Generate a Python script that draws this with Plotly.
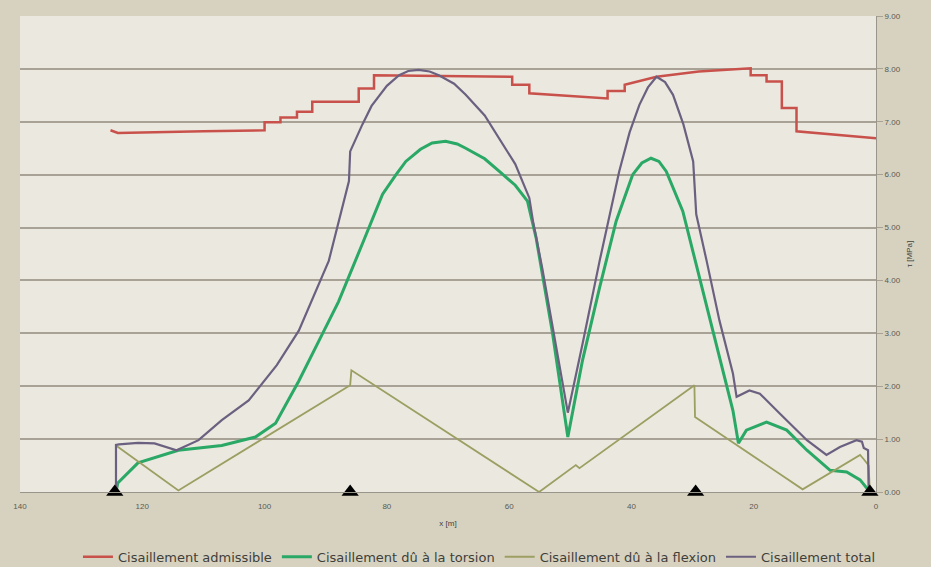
import plotly.graph_objects as go

# ---- data ----
adm_x = [125.2, 124.0, 110.0, 100.0, 100.0, 97.4, 97.4, 94.7, 94.7, 92.2, 92.2, 84.6, 84.6, 82.1, 82.1,
         59.5, 59.5, 56.7, 56.7, 43.9, 43.9, 41.1, 41.1, 35.9, 29.0, 20.5, 20.5, 17.9, 17.9, 15.4, 15.4,
         13.0, 13.0, 0.0]
adm_y = [6.84, 6.79, 6.82, 6.84, 6.99, 6.99, 7.08, 7.08, 7.19, 7.19, 7.38, 7.38, 7.63, 7.63, 7.88,
         7.85, 7.70, 7.70, 7.54, 7.44, 7.58, 7.58, 7.70, 7.85, 7.95, 8.01, 7.88, 7.88, 7.76, 7.76, 7.26,
         7.26, 6.82, 6.69]

tor_x = [124.3, 124.0, 120.7, 114.1, 107.0, 101.5, 98.2, 94.4, 90.5, 87.9, 83.8, 80.7, 78.5, 76.9,
         74.5, 72.6, 70.4, 68.5, 67.1, 64.0, 61.6, 59.0, 57.0, 55.6, 52.9, 50.4, 48.0, 45.2, 42.5,
         39.8, 38.3, 36.8, 35.5, 34.3, 31.6, 28.9, 26.1, 23.4, 22.5, 21.2, 17.9, 14.6, 11.3, 7.5,
         4.8, 2.6, 1.0]
tor_y = [0.0, 0.17, 0.55, 0.79, 0.88, 1.04, 1.30, 2.10, 3.00, 3.60, 4.75, 5.63, 6.00, 6.25,
         6.48, 6.60, 6.63, 6.58, 6.50, 6.30, 6.06, 5.80, 5.50, 4.81, 3.00, 1.04, 2.49, 3.87, 5.12,
         6.00, 6.22, 6.31, 6.25, 6.06, 5.31, 4.05, 2.80, 1.54, 0.92, 1.17, 1.32, 1.17, 0.79, 0.41,
         0.38, 0.23, 0.0]

flex_x = [124.3, 124.3, 114.1, 86.0, 85.8, 55.1, 49.1, 48.5, 29.7, 29.6, 12.0, 2.6, 2.0, 1.2, 1.0]
flex_y = [0.0, 0.88, 0.03, 2.02, 2.30, 0.0, 0.51, 0.45, 2.02, 1.42, 0.05, 0.70, 0.62, 0.50, 0.0]

tot_x = [124.3, 124.3, 123.8, 120.7, 118.0, 114.4, 110.8, 107.0, 102.6, 98.0, 94.4, 89.5, 86.2, 86.0,
         84.0, 82.5, 80.0, 78.0, 76.5, 74.8, 73.0, 71.5, 69.0, 67.1, 64.0, 61.6, 59.0, 56.7, 56.1,
         54.6, 52.9, 51.5, 50.4, 48.0, 45.2, 42.0, 40.3, 38.7, 37.3, 35.9, 34.5, 33.2, 31.5, 29.9,
         29.4, 27.7, 25.6, 23.4, 22.8, 20.7, 19.0, 15.7, 11.3, 8.1, 5.9, 3.2, 2.3, 2.0, 1.3, 1.2]
tot_y = [0.0, 0.89, 0.90, 0.93, 0.92, 0.79, 0.98, 1.36, 1.73, 2.40, 3.05, 4.37, 5.88, 6.44,
         6.95, 7.30, 7.68, 7.88, 7.96, 7.98, 7.95, 7.88, 7.72, 7.51, 7.12, 6.69, 6.20, 5.56, 5.12,
         4.24, 3.11, 2.17, 1.50, 2.80, 4.37, 6.06, 6.80, 7.32, 7.65, 7.85, 7.75, 7.51, 6.95, 6.25,
         5.25, 4.37, 3.24, 2.24, 1.80, 1.92, 1.86, 1.48, 0.98, 0.70, 0.85, 0.98, 0.95, 0.83, 0.79, 0.0]

support_x = [124.5, 86.0, 29.5, 1.0]
support_y = [0, 0, 0, 0]

x_ticks = [140, 120, 100, 80, 60, 40, 20, 0]
y_ticks = [0, 1, 2, 3, 4, 5, 6, 7, 8, 9]

names = ["Cisaillement admissible", "Cisaillement dû à la torsion",
         "Cisaillement dû à la flexion", "Cisaillement total"]

fig = go.Figure()
fig.add_trace(go.Scatter(x=adm_x, y=adm_y, mode="lines", name=names[0],
                         line=dict(color="#c9514b", width=2.5)))
fig.add_trace(go.Scatter(x=tor_x, y=tor_y, mode="lines", name=names[1],
                         line=dict(color="#2aa865", width=3)))
fig.add_trace(go.Scatter(x=flex_x, y=flex_y, mode="lines", name=names[2],
                         line=dict(color="#9c9f62", width=1.8)))
fig.add_trace(go.Scatter(x=tot_x, y=tot_y, mode="lines", name=names[3],
                         line=dict(color="#6b6080", width=2.2)))
fig.add_trace(go.Scatter(x=support_x, y=support_y, mode="markers", showlegend=False,
                         marker=dict(symbol="triangle-up", size=15, color="black"),
                         cliponaxis=False, hoverinfo="skip"))

fig.update_layout(
    width=931, height=567,
    margin=dict(l=20, r=55, t=14, b=75),
    paper_bgcolor="#d7d2c0",
    plot_bgcolor="#ebe8df",
    font=dict(family="Liberation Sans, Arial, sans-serif", color="#4a4a44", size=8),
    showlegend=True,
    legend=dict(orientation="h", xref="container", yref="container", x=0.515, y=0.018,
                xanchor="center", yanchor="middle",
                font=dict(family="DejaVu Sans, sans-serif", size=13, color="#3f3f3a"),
                bgcolor="rgba(0,0,0,0)", itemwidth=30, tracegroupgap=0),
    xaxis=dict(range=[140, 0], tickvals=x_ticks, ticktext=[str(v) for v in x_ticks],
               showgrid=False, zeroline=False, showline=True, linecolor="#9a958a",
               ticks="outside", ticklen=6, tickcolor="rgba(0,0,0,0)",
               tickfont=dict(size=8, color="#5a5a52"),
               title=dict(text="x [m]", font=dict(size=8, color="#3f3f3a"), standoff=10)),
    yaxis=dict(range=[0, 9], side="right", tickvals=y_ticks, tickformat=".2f",
               showgrid=True, gridcolor="#a8a296", gridwidth=1.5, zeroline=False,
               showline=True, linecolor="#9a958a", ticks="outside", ticklen=6,
               tickcolor="#a8a296", tickfont=dict(size=8, color="#5a5a52"),
               title=dict(text="τ [MPa]", font=dict(size=8, color="#3f3f3a"), standoff=6)),
)

fig.write_html("out.html", config={"displayModeBar": False},
               post_script="document.body.style.margin='0';document.body.style.background='#d7d2c0';")
